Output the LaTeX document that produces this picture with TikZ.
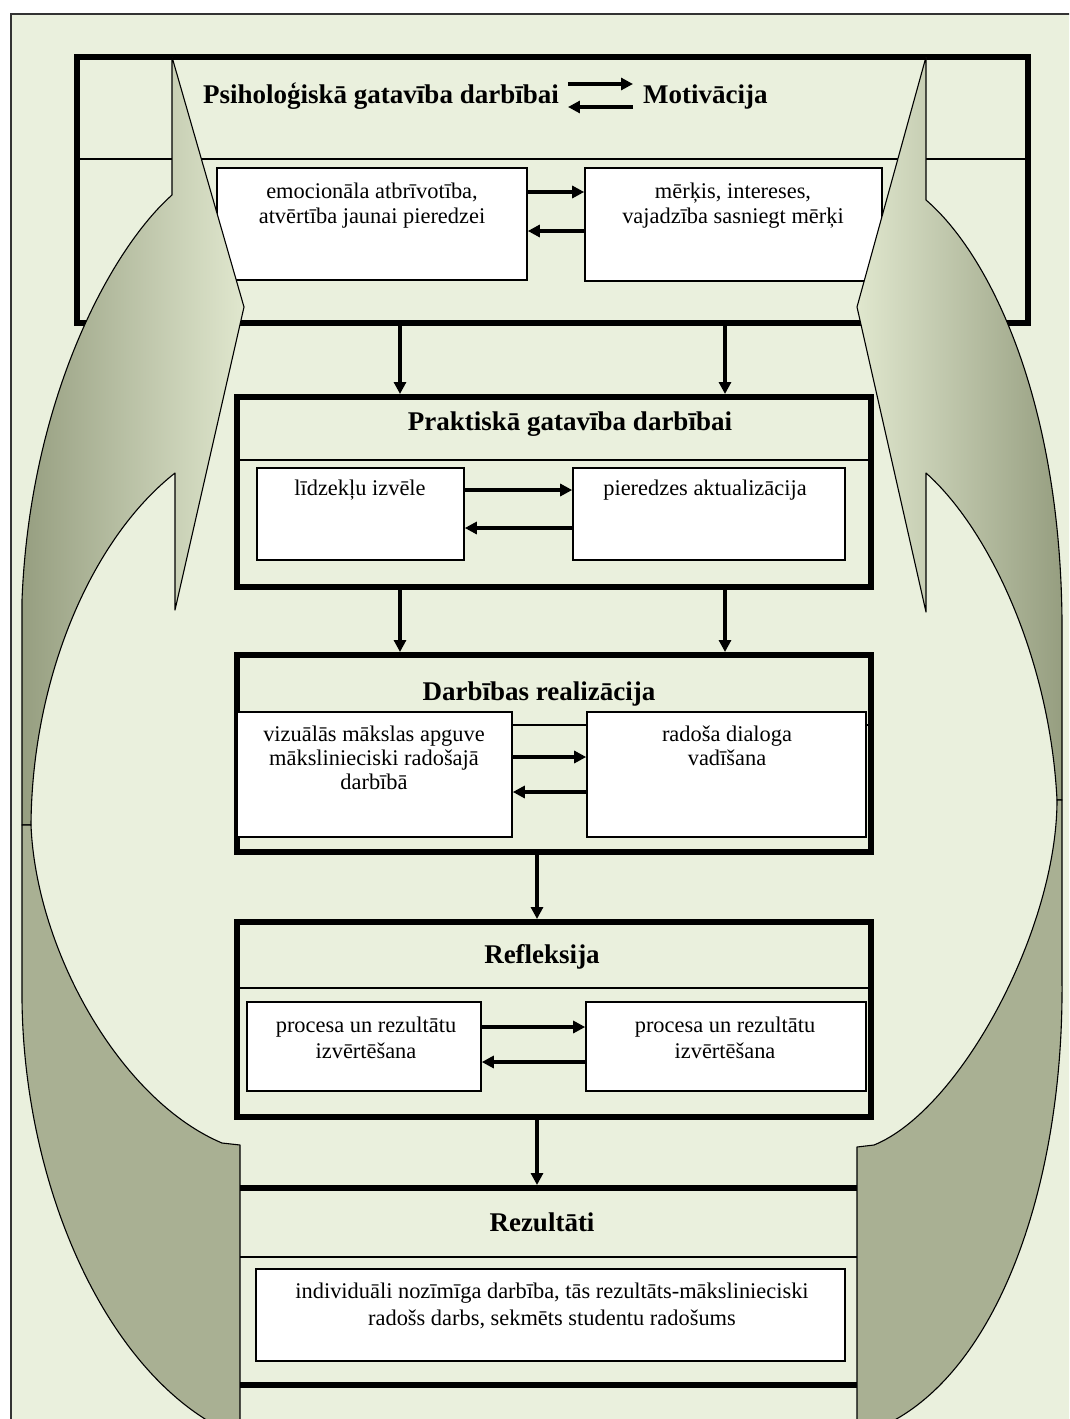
\documentclass[tikz,border=0pt]{standalone}
\usepackage{fontspec}
\setmainfont{Liberation Serif}
\usetikzlibrary{arrows.meta}
\definecolor{bg}{RGB}{234,240,221}
\definecolor{backc}{RGB}{169,176,147}
\definecolor{frontdark}{RGB}{150,158,128}
\definecolor{frontlight}{RGB}{224,231,206}
\begin{document}
\begin{tikzpicture}[x=1pt,y=-1pt,
  bigbox/.style={draw=black, line width=6pt, rectangle, inner sep=0pt},
  subbox/.style={draw=black, fill=white, line width=1.6pt, rectangle, inner sep=0pt},
  subtxt/.style={font=\fontsize{22.4}{#1}\selectfont, align=center, inner sep=0pt, anchor=north},
  subtxt/.default=25,
  ttl/.style={font=\fontsize{27}{30}\selectfont\bfseries, inner sep=0pt, anchor=base},
  conn/.style={line width=3.2pt, -{Triangle[length=12pt,width=12pt]}},
  sepline/.style={line width=1.8pt},
  shapeline/.style={draw=black, line width=1.1pt, line join=round},
  thickline/.style={line width=6pt}
]
\useasboundingbox (0,0) rectangle (1069,1419);
\clip (0,0) rectangle (1069,1419);
\fill[white] (0,0) rectangle (1069,1419);
\fill[bg] (11,14) rectangle (1080,1430);
\draw[line width=1.5pt, black!80] (11,1430) -- (11,14) -- (1080,14);

% ---------- top box ----------
\node[bigbox, minimum width=951pt, minimum height=266pt] (psy) at (552.5,190) {};
\draw[sepline] (psy.west |- 0,159) -- (psy.east |- 0,159);
\node[ttl, anchor=base west] (psyt) at (203,103) {Psiholoģiskā gatavība darbībai};
\node[ttl, anchor=base west] (mot) at (643,103) {Motivācija};
\draw[conn, shorten <=9pt, shorten >=10pt] (psyt.east |- 0,84) -- (mot.west |- 0,84);
\draw[conn, shorten <=10pt, shorten >=9pt] (mot.west |- 0,107) -- (psyt.east |- 0,107);

\node[subbox, minimum width=310pt, minimum height=112pt] (e1) at (372,224) {};
\node[subbox, minimum width=297pt, minimum height=113pt] (e2) at (733.5,224.5) {};
\node[subtxt] (e1t) at (372,180.5) {\strut emocionāla atbrīvotība,\\atvērtība jaunai pieredzei};
\node[subtxt] (e2t) at (733,180.5) {\strut mērķis, intereses,\\vajadzība sasniegt mērķi};
\draw[conn] (e1.east |- 0,192) -- (e2.west |- 0,192);
\draw[conn] (e2.west |- 0,231) -- (e1.east |- 0,231);

% ---------- left curved arrow ----------
\shadedraw[shapeline, left color=frontdark, right color=frontlight]
  (172,57) -- (172,195)
  .. controls (110,250) and (30,400) .. (22,600)
  -- (22,825) -- (31,825)
  .. controls (32,680) and (90,540) .. (175,473)
  -- (175,610) -- (244,307) -- cycle;
\filldraw[shapeline, fill=backc]
  (31,825) .. controls (36,950) and (120,1100) .. (222,1143)
  -- (240,1145) -- (240,1425) -- (215,1425)
  .. controls (100,1360) and (24,1180) .. (22,1000)
  -- (22,825) -- cycle;

% ---------- right curved arrow ----------
\shadedraw[shapeline, left color=frontlight, right color=frontdark]
  (926,57) -- (926,200)
  .. controls (990,255) and (1060,400) .. (1062,620)
  -- (1062,800) -- (1057,800)
  .. controls (1050,660) and (990,530) .. (926,473)
  -- (926,612) -- (857,307) -- cycle;
\filldraw[shapeline, fill=backc]
  (1057,800) .. controls (1057,930) and (960,1110) .. (874,1145)
  -- (857,1147) -- (857,1425) -- (885,1425)
  .. controls (1000,1370) and (1064,1180) .. (1062,980)
  -- (1062,800) -- cycle;

% ---------- Praktiska ----------
\node[bigbox, minimum width=634pt, minimum height=190pt] (prak) at (554,492) {};
\draw[sepline] (prak.west |- 0,460) -- (prak.east |- 0,460);
\node[ttl] (prakt) at (570,430) {Praktiskā gatavība darbībai};
\node[subbox, minimum width=207pt, minimum height=92pt] (p1) at (360.5,514) {};
\node[subbox, minimum width=272pt, minimum height=92pt] (p2) at (709,514) {};
\node[subtxt] (p1t) at (360,477.5) {\strut līdzekļu izvēle};
\node[subtxt] (p2t) at (705,477.5) {\strut pieredzes aktualizācija};
\draw[conn] (p1.east |- 0,490) -- (p2.west |- 0,490);
\draw[conn] (p2.west |- 0,528) -- (p1.east |- 0,528);

% ---------- Darbibas ----------
\node[bigbox, minimum width=634pt, minimum height=197pt] (darb) at (554,753.5) {};
\draw[sepline] (darb.west |- 0,725) -- (darb.east |- 0,725);
\node[ttl] (darbt) at (539,700) {Darbības realizācija};
\node[subbox, minimum width=275pt, minimum height=125pt] (d1) at (374.5,774.5) {};
\node[subbox, minimum width=279pt, minimum height=125pt] (d2) at (726.5,774.5) {};
\node[subtxt=24] (d1t) at (374,724.2) {\strut vizuālās mākslas apguve\\mākslinieciski radošajā\\darbībā};
\node[subtxt=24] (d2t) at (727,724.2) {\strut radoša dialoga\\vadīšana};
\draw[conn] (d1.east |- 0,757) -- (d2.west |- 0,757);
\draw[conn] (d2.west |- 0,792) -- (d1.east |- 0,792);

% ---------- Refleksija ----------
\node[bigbox, minimum width=634pt, minimum height=195pt] (refl) at (554,1019.5) {};
\draw[sepline] (refl.west |- 0,988) -- (refl.east |- 0,988);
\node[ttl] (reflt) at (542,963) {Refleksija};
\node[subbox, minimum width=234pt, minimum height=89pt] (r1) at (364,1046.5) {};
\node[subbox, minimum width=280pt, minimum height=89pt] (r2) at (726,1046.5) {};
\node[subtxt=26] (r1t) at (366,1013.8) {\strut procesa un rezultātu\\izvērtēšana};
\node[subtxt=26] (r2t) at (725,1013.8) {\strut procesa un rezultātu\\izvērtēšana};
\draw[conn] (r1.east |- 0,1027) -- (r2.west |- 0,1027);
\draw[conn] (r2.west |- 0,1062) -- (r1.east |- 0,1062);

% ---------- Rezultati ----------
\node[minimum width=617pt, minimum height=197pt, inner sep=0pt, outer sep=0pt] (rez) at (548.5,1286.5) {};
\draw[thickline] (rez.north west) -- (rez.north east);
\draw[thickline] (rez.south west) -- (rez.south east);
\draw[sepline] (rez.west |- 0,1257) -- (rez.east |- 0,1257);
\node[ttl] (rezt) at (542,1231) {Rezultāti};
\node[subbox, minimum width=589pt, minimum height=92pt] (rz) at (550.5,1315) {};
\node[subtxt=27] (rzt) at (552,1279.1) {\strut individuāli nozīmīga darbība, tās rezultāts-mākslinieciski\\radošs darbs, sekmēts studentu radošums};

% ---------- vertical connectors ----------
\coordinate (cA) at (400,0);
\coordinate (cB) at (725,0);
\coordinate (cC) at (537,0);
\draw[conn] (psy.south -| cA) -- (prak.north -| cA);
\draw[conn] (psy.south -| cB) -- (prak.north -| cB);
\draw[conn] (prak.south -| cA) -- (darb.north -| cA);
\draw[conn] (prak.south -| cB) -- (darb.north -| cB);
\draw[conn] (darb.south -| cC) -- (refl.north -| cC);
\draw[conn, shorten >=3pt] (refl.south -| cC) -- (rez.north -| cC);
\end{tikzpicture}
\end{document}
